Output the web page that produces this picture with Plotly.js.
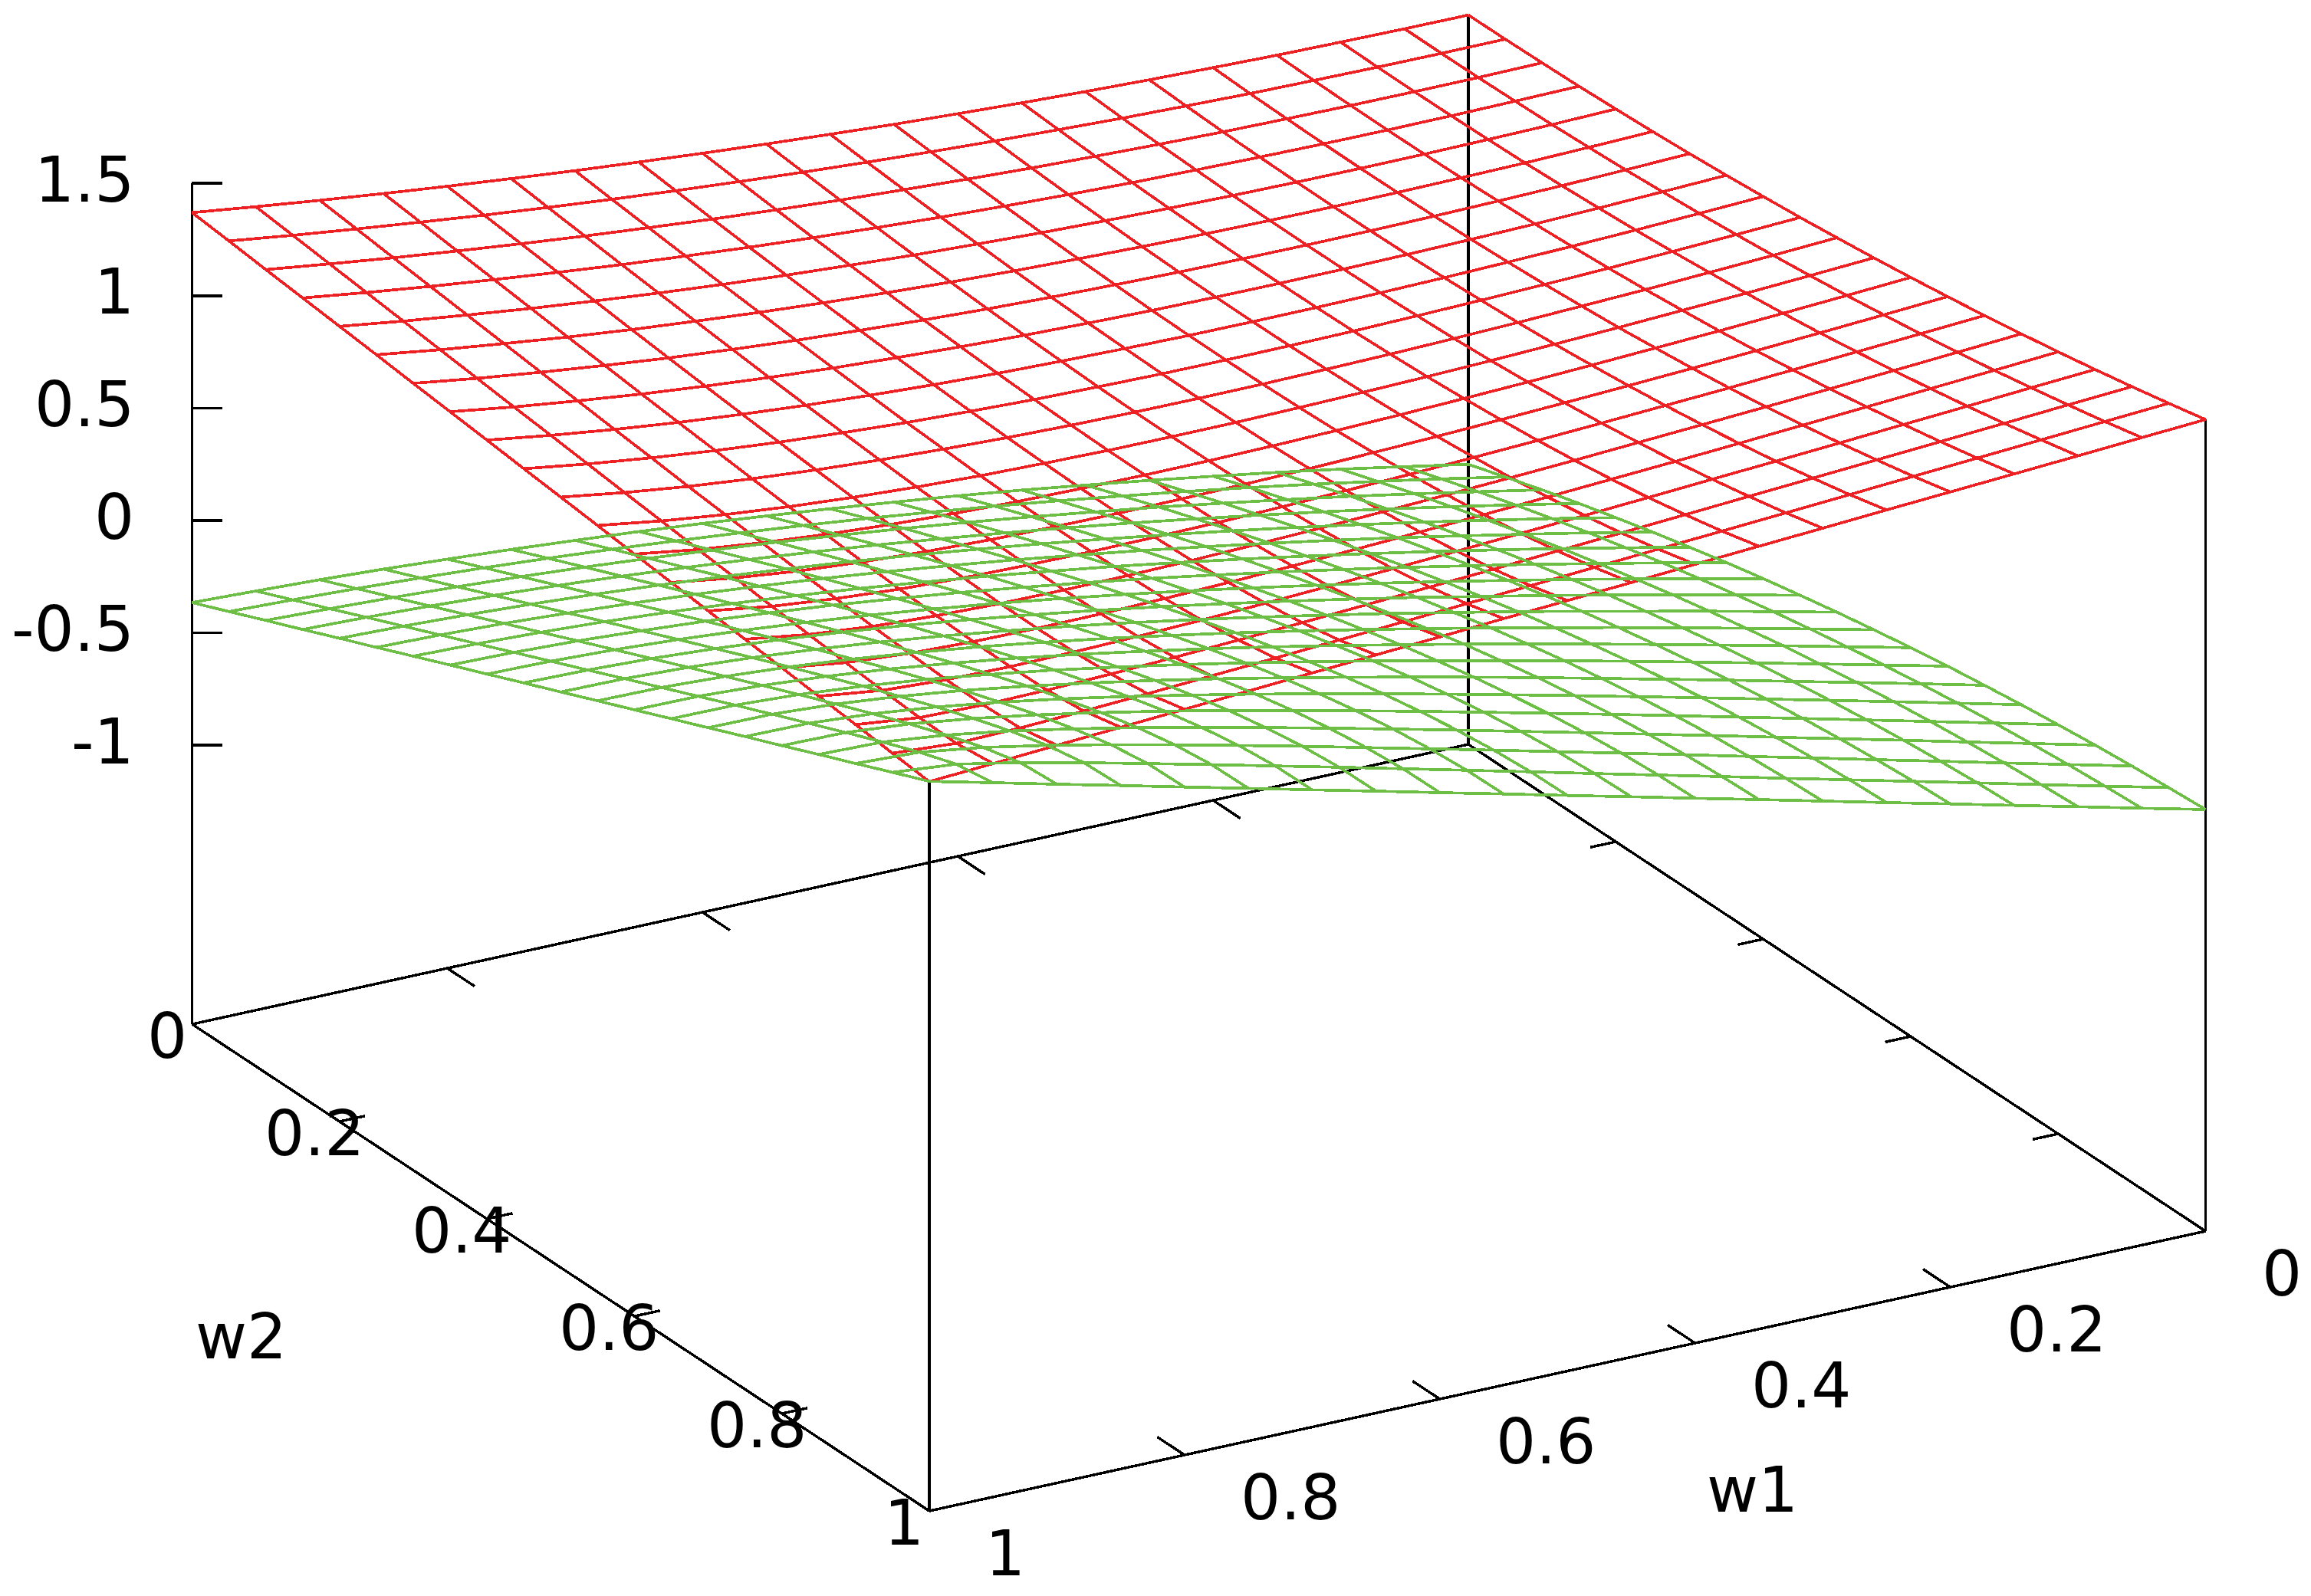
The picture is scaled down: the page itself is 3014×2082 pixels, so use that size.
<!DOCTYPE html>
<html><head><meta charset="utf-8">
<script src="https://cdn.plot.ly/plotly-3.0.1.min.js"></script>
<style>html,body{margin:0;padding:0;background:#fff}#c{width:3014px;height:2082px}#c path.js-line{shape-rendering:crispEdges}</style></head>
<body><div id="c"></div>
<script>
// grid: w1 = w2 = 0 .. 1 in steps of 0.05
const gridW = [0,.05,.1,.15,.2,.25,.3,.35,.4,.45,.5,.55,.6,.65,.7,.75,.8,.85,.9,.95,1];
// surfaces are symmetric in w1,w2: row i holds columns j>=i
const redRows = [
[1.004,1.005,1.008,1.012,1.019,1.027,1.037,1.049,1.063,1.078,1.096,1.115,1.136,1.159,1.183,1.210,1.238,1.268,1.300,1.334,1.370],
[1.004,1.005,1.008,1.012,1.019,1.027,1.038,1.050,1.064,1.080,1.098,1.118,1.140,1.164,1.190,1.218,1.249,1.281,1.315,1.352],
[1.004,1.005,1.008,1.012,1.019,1.028,1.038,1.051,1.066,1.082,1.101,1.122,1.146,1.171,1.199,1.229,1.261,1.296,1.333],
[1.004,1.005,1.008,1.013,1.019,1.028,1.039,1.052,1.068,1.085,1.105,1.128,1.152,1.180,1.210,1.242,1.277,1.315],
[1.004,1.005,1.008,1.013,1.020,1.029,1.041,1.054,1.071,1.089,1.110,1.134,1.161,1.190,1.223,1.258,1.297],
[1.004,1.005,1.008,1.013,1.021,1.030,1.042,1.057,1.074,1.094,1.117,1.142,1.171,1.204,1.239,1.279],
[1.004,1.005,1.008,1.014,1.021,1.031,1.044,1.060,1.078,1.100,1.124,1.153,1.185,1.220,1.260],
[1.004,1.005,1.008,1.014,1.022,1.033,1.047,1.063,1.083,1.107,1.134,1.166,1.201,1.242],
[1.004,1.005,1.009,1.015,1.023,1.035,1.050,1.068,1.090,1.116,1.147,1.183,1.224],
[1.004,1.005,1.009,1.015,1.025,1.037,1.054,1.074,1.099,1.129,1.164,1.205],
[1.004,1.005,1.009,1.016,1.027,1.041,1.059,1.082,1.110,1.145,1.187],
[1.004,1.005,1.010,1.017,1.029,1.045,1.066,1.093,1.127,1.169],
[1.004,1.006,1.010,1.019,1.032,1.051,1.076,1.108,1.150],
[1.004,1.006,1.011,1.021,1.037,1.059,1.090,1.132],
[1.004,1.006,1.012,1.024,1.044,1.072,1.114],
[1.004,1.006,1.014,1.029,1.055,1.096],
[1.004,1.007,1.017,1.038,1.077],
[1.004,1.008,1.023,1.059],
[1.004,1.010,1.041],
[1.004,1.022],
[1.004]];
const greenRows = [
[-.995,-.943,-.892,-.844,-.799,-.755,-.714,-.674,-.637,-.603,-.570,-.540,-.511,-.485,-.462,-.440,-.421,-.403,-.388,-.376,-.365],
[-.889,-.838,-.788,-.741,-.696,-.654,-.613,-.575,-.539,-.505,-.474,-.445,-.418,-.393,-.371,-.351,-.334,-.319,-.307,-.297],
[-.785,-.734,-.686,-.640,-.595,-.554,-.514,-.476,-.441,-.409,-.378,-.351,-.325,-.302,-.282,-.265,-.250,-.238,-.228],
[-.682,-.632,-.585,-.539,-.495,-.454,-.415,-.379,-.344,-.313,-.284,-.258,-.234,-.213,-.195,-.180,-.168,-.160],
[-.581,-.531,-.484,-.439,-.396,-.355,-.317,-.281,-.248,-.218,-.190,-.166,-.144,-.126,-.111,-.099,-.091],
[-.480,-.431,-.384,-.339,-.297,-.256,-.219,-.184,-.152,-.124,-.098,-.076,-.057,-.041,-.030,-.023],
[-.380,-.331,-.284,-.239,-.198,-.158,-.122,-.088,-.058,-.031,-.007,.013,.028,.039,.046],
[-.280,-.231,-.184,-.140,-.099,-.060,-.025,.008,.036,.061,.081,.098,.109,.115],
[-.180,-.131,-.085,-.041,.000,.037,.072,.102,.128,.150,.167,.178,.183],
[-.080,-.031,.015,.058,.098,.135,.167,.195,.218,.236,.247,.252],
[.020,.069,.115,.157,.196,.231,.261,.286,.305,.317,.320],
[.120,.169,.214,.256,.293,.326,.353,.373,.386,.389],
[.220,.269,.314,.354,.390,.419,.441,.455,.457],
[.320,.369,.412,.452,.484,.509,.524,.526],
[.420,.468,.511,.547,.575,.592,.594],
[.520,.567,.608,.640,.660,.663],
[.619,.665,.703,.727,.731],
[.718,.762,.793,.800],
[.815,.856,.868],
[.911,.937],
[1.005]];
const zBase = -2.241, zTop = 1.5;
const zTicks = [1.5,1,0.5,0,-0.5,-1];
const zTickText = ["1.5","1","0.5","0","-0.5","-1"];
const wTicks = [0,.2,.4,.6,.8,1];
const wTickText = ["0","0.2","0.4","0.6","0.8","1"];
const RED="#ed2024", GREEN="#6dbe45", BLACK="#000000";

// gnuplot-style parallel projection of (w1,w2,z) on the page
function px(w1,w2,z){return 1915-1664.5*w1+961.5*w2;}
function py(w1,w2,z){return 314+365*w1+635*w2-293.2*z;}

const n = gridW.length;
function full(rows){const m=[];for(let i=0;i<n;i++){m.push([]);for(let j=0;j<n;j++){m[i].push(i<=j?rows[i][j-i]:rows[j][i-j]);}}return m;}
function mesh(rows,color,name){
  const Z=full(rows),x=[],y=[];
  for(let i=0;i<n;i++){for(let j=0;j<n;j++){x.push(px(gridW[i],gridW[j],Z[i][j]));y.push(py(gridW[i],gridW[j],Z[i][j]));}x.push(null);y.push(null);}
  for(let j=0;j<n;j++){for(let i=0;i<n;i++){x.push(px(gridW[i],gridW[j],Z[i][j]));y.push(py(gridW[i],gridW[j],Z[i][j]));}x.push(null);y.push(null);}
  return {type:'scatter',mode:'lines',name,x,y,line:{color,width:3.7,simplify:false},hoverinfo:'skip',showlegend:false,connectgaps:false};
}
const R=full(redRows);
const bx=[],by=[];
function seg(a,b){bx.push(px(...a),px(...b),null);by.push(py(...a),py(...b),null);}
seg([1,0,zBase],[1,1,zBase]);seg([1,1,zBase],[0,1,zBase]);seg([0,1,zBase],[0,0,zBase]);seg([0,0,zBase],[1,0,zBase]);
seg([1,0,zBase],[1,0,zTop]);
seg([0,0,zBase],[0,0,R[0][0]]);seg([0,1,zBase],[0,1,R[0][20]]);seg([1,1,zBase],[1,1,R[20][20]]);
for(const t of wTicks.slice(1,5)){
  seg([t,0,zBase],[t,.037,zBase]);seg([t,1,zBase],[t,.963,zBase]);
  seg([1,t,zBase],[.98,t,zBase]);seg([0,t,zBase],[.02,t,zBase]);
}
for(const t of zTicks){seg([1,0,t],[.982,.0103,t]);}
const frame={type:'scatter',mode:'lines',x:bx,y:by,line:{color:BLACK,width:3.5},hoverinfo:'skip',showlegend:false,connectgaps:false};

const font={family:'"DejaVu Sans"',size:82,color:'#000'};
const ann=[];
function label(p,text,xanchor,xs,ys){ann.push({x:px(...p),y:py(...p),xref:'x',yref:'y',text,showarrow:false,xanchor,yanchor:'middle',xshift:xs,yshift:-ys,font});}
zTicks.forEach((t,i)=>label([1,0,t],zTickText[i],'right',-74,-5));
wTicks.forEach((t,i)=>label([1,t,zBase],wTickText[i],'center',-33,15));
wTicks.forEach((t,i)=>label([t,1,zBase],wTickText[i],'left',71,55));
label([.5,1,zBase],'w1','center',241,155);
label([1,.5,zBase],'w2','center',-417,90);

const ax={visible:false,showgrid:false,zeroline:false,fixedrange:true};
const layout={width:3014,height:2082,margin:{l:0,r:0,t:0,b:0},paper_bgcolor:'#fff',plot_bgcolor:'#fff',showlegend:false,
  xaxis:{...ax,range:[0,3014]},yaxis:{...ax,range:[2082,0]},annotations:ann};
Plotly.newPlot('c',[frame,mesh(redRows,RED,'red'),mesh(greenRows,GREEN,'green')],layout,{displayModeBar:false,staticPlot:true});
</script></body></html>
